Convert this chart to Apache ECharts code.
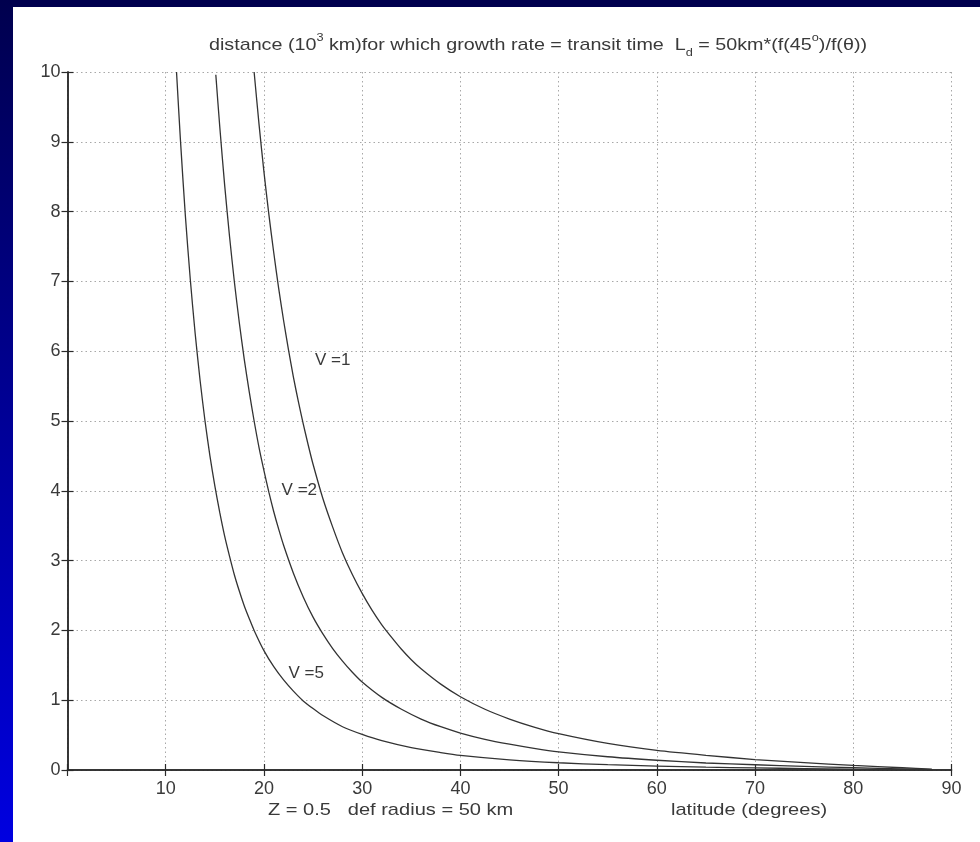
<!DOCTYPE html>
<html>
<head>
<meta charset="utf-8">
<script src="https://cdn.jsdelivr.net/npm/echarts@6/dist/echarts.min.js"></script>
<style>
html,body{margin:0;padding:0;background:#fff;}
#chart{width:980px;height:842px;}
</style>
</head>
<body>
<div id="chart"></div>
<script>
// ---- data ----
const xTicks = [0, 10, 20, 30, 40, 50, 60, 70, 80, 90];
const yTicks = [0, 1, 2, 3, 4, 5, 6, 7, 8, 9, 10];

const latV1 = [19.0,19.5,20,20.5,21,21.5,22,22.5,23,23.5,24,24.5,25,26,27,28,29,30,31,32,33,34,35,36,38,40,42.5,45,47.5,50,55,60,65,70,75,80,85,88];
const lenV1 = [10.0,9.25,8.57,7.96,7.41,6.90,6.44,6.02,5.63,5.28,4.96,4.66,4.38,3.89,3.48,3.11,2.80,2.53,2.29,2.08,1.90,1.73,1.58,1.45,1.23,1.05,0.87,0.73,0.615,0.52,0.38,0.28,0.21,0.15,0.105,0.066,0.032,0.013];

const latV2 = [15.1,15.5,16,16.5,17,17.5,18,18.5,19,19.5,20,20.5,21,21.5,22,23,24,25,26,27,28,29,30,32,34,36,38,40,42.5,45,47.5,50,55,60,65,70,75,80,85,88];
const lenV2 = [9.96,9.22,8.38,7.64,6.98,6.40,5.88,5.42,5.00,4.62,4.29,3.98,3.70,3.45,3.22,2.82,2.48,2.19,1.95,1.74,1.56,1.40,1.26,1.04,0.87,0.73,0.62,0.53,0.44,0.37,0.31,0.26,0.19,0.14,0.10,0.075,0.052,0.033,0.016,0.006];

const latV5 = [11.1,11.5,12,12.5,13,13.5,14,14.5,15,15.5,16,16.5,17,17.5,18,18.5,19,20,21,22,23,24,25,26,28,30,32,35,38,40,45,50,55,60,65,70,75,80,85,88];
const lenV5 = [10.0,9.02,7.94,7.03,6.25,5.58,5.00,4.50,4.07,3.69,3.35,3.06,2.79,2.56,2.35,2.17,2.00,1.71,1.48,1.29,1.13,0.99,0.88,0.78,0.62,0.51,0.42,0.32,0.25,0.21,0.146,0.104,0.076,0.056,0.041,0.030,0.021,0.013,0.006,0.003];

const curveLabels = ['V =1', 'V =2', 'V =5'];
const labelLat = [27.0, 23.6, 24.3];
const labelLen = [5.87, 4.01, 1.39];

// ---- build ----
const FONT = '"Liberation Sans", Arial, sans-serif';
const TXT = '#3a3a3a';
const AX = '#2a2a2a';
const SX = 1.16;

function pairs(xs, ys){ return xs.map((x,i)=>[x, ys[i]]); }

const chart = echarts.init(document.getElementById('chart'), null, {renderer:'canvas'});

function curve(name, xs, ys, idx){
  return {
    name, type:'line', xAxisIndex:0, yAxisIndex:0,
    data: pairs(xs, ys), smooth:0.25,
    showSymbol:false, symbol:'none', clip:true,
    lineStyle:{color:'#333', width:1.3},
    markPoint:{
      symbol:'circle', symbolSize:0, silent:true,
      label:{show:true, formatter:curveLabels[idx], color:TXT, fontSize:17, fontFamily:FONT, position:'inside'},
      data:[{coord:[labelLat[idx], labelLen[idx]]}]
    },
    z:5
  };
}

const option = {
  animation:false,
  backgroundColor:'#ffffff',
  graphic:[
    {type:'rect', z:-10, shape:{x:0,y:0,width:980,height:7}, style:{fill:'#00004e'}},
    {type:'rect', z:-10, shape:{x:0,y:0,width:13,height:842},
      style:{fill:new echarts.graphic.LinearGradient(0,0,0,1,[{offset:0,color:'#00004e'},{offset:1,color:'#0000e0'}])}},
    {type:'text', x:209, y:45, scaleX:SX, scaleY:1,
      style:{
        text:'{n|distance (10}{sup|3}{n| km)for which growth rate = transit time  L}{sub|d}{n| = 50km*(f(45}{sup|o}{n|)/f(θ))}',
        verticalAlign:'middle', align:'left',
        rich:{
          n:{fontSize:17, fill:TXT, fontFamily:FONT, lineHeight:26, verticalAlign:'middle'},
          sup:{fontSize:11, fill:TXT, fontFamily:FONT, verticalAlign:'top', lineHeight:26},
          sub:{fontSize:11, fill:TXT, fontFamily:FONT, verticalAlign:'bottom', lineHeight:26}
        }
      }},
    {type:'text', x:268, y:810, scaleX:1.18, scaleY:1,
      style:{text:'Z = 0.5   def radius = 50 km', fill:TXT, font:'17px '+FONT, verticalAlign:'middle'}},
    {type:'text', x:671, y:810, scaleX:1.18, scaleY:1,
      style:{text:'latitude (degrees)', fill:TXT, font:'17px '+FONT, verticalAlign:'middle'}}
  ],
  grid:{left:67.5, right:28.5, top:72, bottom:72},
  xAxis:[
    {type:'value', min:0, max:90, interval:10, position:'bottom',
      axisLine:{show:true, lineStyle:{color:AX, width:1.5}},
      axisTick:{show:true, inside:true, length:6, lineStyle:{color:AX, width:1.2}},
      axisLabel:{color:TXT, fontSize:18, fontFamily:FONT, margin:10,
        formatter:v=> v===0 ? '' : String(v)},
      splitLine:{show:true, lineStyle:{color:'#a8a8a8', type:[1.5,3], width:1}}},
    {type:'value', min:0, max:90, interval:10, position:'top',
      axisLine:{show:true, lineStyle:{color:AX, width:1.5}},
      axisTick:{show:true, inside:true, length:6, lineStyle:{color:AX, width:1.2}},
      axisLabel:{show:false}, splitLine:{show:false}}
  ],
  yAxis:[
    {type:'value', min:0, max:10, interval:1, position:'left',
      axisLine:{show:true, lineStyle:{color:AX, width:1.5}},
      axisTick:{show:true, inside:true, length:6, lineStyle:{color:AX, width:1.2}},
      axisLabel:{color:TXT, fontSize:18, fontFamily:FONT, margin:7},
      splitLine:{show:true, lineStyle:{color:'#a8a8a8', type:[1.5,3], width:1}}},
    {type:'value', min:0, max:10, interval:1, position:'right',
      axisLine:{show:true, lineStyle:{color:AX, width:1.5}},
      axisTick:{show:true, inside:true, length:6, lineStyle:{color:AX, width:1.2}},
      axisLabel:{show:false}, splitLine:{show:false}}
  ],
  series:[
    curve('V=1', latV1, lenV1, 0),
    curve('V=2', latV2, lenV2, 1),
    curve('V=5', latV5, lenV5, 2)
  ]
};
chart.setOption(option);
</script>
</body>
</html>
